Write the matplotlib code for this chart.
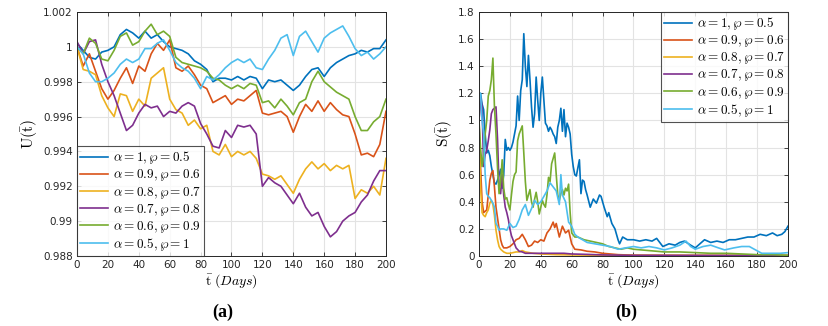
import numpy as np
import matplotlib
matplotlib.use("Agg")
from matplotlib import pyplot as plt

# ---- data: U(t) panel (sampled every 4 days) ----
days_u = np.arange(0, 201, 4)

u_a1 = [1.0002, 0.9998, 0.9994, 0.9993, 0.9997, 0.9998, 1.0000, 1.0007, 1.0010, 1.0008,
        1.0005, 1.0009, 1.0005, 1.0007, 1.0003, 1.0000, 0.9999, 0.9998, 0.9996, 0.9992,
        0.9990, 0.9987, 0.9980, 0.9982, 0.9982, 0.9981, 0.9983, 0.9981, 0.9983, 0.9982,
        0.9976, 0.9981, 0.9980, 0.9981, 0.9978, 0.9975, 0.9978, 0.9983, 0.9987, 0.9988,
        0.9983, 0.9988, 0.9991, 0.9993, 0.9995, 0.9996, 0.9998, 0.9997, 0.9999, 0.9999,
        1.0004]
u_a09 = [1.0000, 0.9989, 0.9996, 0.9986, 0.9976, 0.9970, 0.9975, 0.9982, 0.9988, 0.9979,
         0.9989, 0.9986, 0.9996, 1.0002, 0.9998, 1.0004, 0.9988, 0.9986, 0.9989, 0.9984,
         0.9978, 0.9976, 0.9968, 0.9970, 0.9972, 0.9967, 0.9970, 0.9969, 0.9972, 0.9975,
         0.9962, 0.9961, 0.9962, 0.9963, 0.9960, 0.9951, 0.9960, 0.9967, 0.9963, 0.9969,
         0.9963, 0.9968, 0.9964, 0.9961, 0.9960, 0.9950, 0.9938, 0.9939, 0.9937, 0.9944,
         0.9963]
u_a08 = [1.0000, 0.9987, 0.9986, 0.9984, 0.9972, 0.9965, 0.9960, 0.9973, 0.9972, 0.9963,
         0.9970, 0.9966, 0.9982, 0.9985, 0.9988, 0.9970, 0.9964, 0.9962, 0.9955, 0.9958,
         0.9953, 0.9955, 0.9940, 0.9938, 0.9944, 0.9937, 0.9940, 0.9938, 0.9940, 0.9936,
         0.9927, 0.9926, 0.9924, 0.9926, 0.9921, 0.9916, 0.9924, 0.9930, 0.9934, 0.9930,
         0.9933, 0.9929, 0.9932, 0.9930, 0.9932, 0.9913, 0.9918, 0.9916, 0.9920, 0.9915,
         0.9936]
u_a07 = [1.0003, 0.9996, 1.0003, 1.0004, 0.9990, 0.9980, 0.9972, 0.9962, 0.9952, 0.9955,
         0.9962, 0.9967, 0.9965, 0.9966, 0.9960, 0.9963, 0.9962, 0.9966, 0.9968, 0.9966,
         0.9956, 0.9950, 0.9943, 0.9942, 0.9952, 0.9948, 0.9955, 0.9954, 0.9955, 0.9950,
         0.9920, 0.9925, 0.9922, 0.9920, 0.9915, 0.9910, 0.9916, 0.9908, 0.9903, 0.9905,
         0.9897, 0.9891, 0.9894, 0.9900, 0.9903, 0.9905, 0.9911, 0.9915, 0.9923, 0.9929,
         0.9929]
u_a06 = [1.0000, 0.9996, 1.0005, 1.0002, 0.9993, 0.9992, 0.9998, 1.0006, 1.0008, 1.0001,
         1.0003, 1.0009, 1.0013, 1.0007, 1.0009, 1.0006, 0.9994, 0.9991, 0.9990, 0.9989,
         0.9988, 0.9986, 0.9982, 0.9981, 0.9978, 0.9976, 0.9978, 0.9976, 0.9979, 0.9978,
         0.9968, 0.9969, 0.9965, 0.9970, 0.9966, 0.9961, 0.9968, 0.9970, 0.9980, 0.9986,
         0.9980, 0.9977, 0.9974, 0.9972, 0.9970, 0.9960, 0.9952, 0.9952, 0.9957, 0.9960,
         0.9970]
u_a05 = [1.0000, 0.9996, 0.9985, 0.9980, 0.9980, 0.9982, 0.9985, 0.9990, 0.9993, 0.9991,
         0.9993, 0.9999, 0.9999, 1.0002, 1.0004, 0.9998, 0.9991, 0.9988, 0.9986, 0.9982,
         0.9976, 0.9983, 0.9981, 0.9984, 0.9988, 0.9991, 0.9993, 0.9991, 0.9993, 0.9988,
         0.9987, 0.9993, 0.9998, 1.0005, 1.0007, 0.9995, 1.0006, 1.0009, 1.0003, 0.9997,
         1.0005, 1.0008, 1.0010, 1.0012, 1.0006, 0.9999, 0.9995, 0.9997, 0.9993, 0.9996,
         1.0000]

# ---- data: S(t) panel ----
t_s_a1 = [0, 1, 2, 3, 4, 5, 6, 7, 8, 9, 10, 11, 12, 13, 14, 15, 16, 17, 18, 19, 20, 21, 22,
          23, 24, 25, 26, 27, 28, 29, 30, 31, 32, 33, 34, 35, 36, 37, 38, 39, 40, 41, 42,
          43, 44, 45, 46, 47, 48, 49, 50, 51, 52, 53, 54, 55, 56, 57, 58, 59, 60, 61, 62,
          63, 64, 65, 66, 67, 68, 69, 70, 72, 74, 76, 78, 79, 81, 83, 84, 86, 88, 90, 91,
          93, 96, 100, 104, 108, 112, 115, 119, 123, 127, 130, 133, 137, 140, 143, 146,
          150, 154, 158, 162, 166, 170, 174, 178, 182, 186, 190, 193, 196, 198, 200]
s_a1 = [1.00, 1.20, 1.12, 1.08, 0.90, 0.76, 0.78, 0.74, 0.66, 0.60, 0.54, 0.53, 0.56, 0.60,
        0.64, 0.50, 0.60, 0.86, 0.78, 0.80, 0.78, 0.80, 0.84, 0.90, 0.96, 1.18, 1.00, 1.22,
        1.30, 1.64, 1.40, 1.25, 1.48, 1.30, 1.10, 0.95, 1.05, 1.32, 1.15, 1.00, 1.20, 1.32,
        1.15, 0.98, 0.96, 0.92, 0.95, 0.93, 0.90, 0.88, 0.83, 0.95, 1.00, 1.09, 0.92, 1.08,
        0.88, 0.98, 0.95, 0.90, 0.75, 0.66, 0.60, 0.59, 0.65, 0.71, 0.46, 0.56, 0.55, 0.49,
        0.45, 0.36, 0.42, 0.39, 0.45, 0.44, 0.36, 0.29, 0.32, 0.24, 0.20, 0.12, 0.09, 0.14,
        0.12, 0.12, 0.11, 0.12, 0.11, 0.13, 0.07, 0.09, 0.08, 0.10, 0.11, 0.08, 0.06, 0.09,
        0.12, 0.10, 0.11, 0.10, 0.12, 0.12, 0.13, 0.14, 0.14, 0.16, 0.15, 0.17, 0.15, 0.16,
        0.18, 0.22]

t_s_a09 = [0, 1, 2, 3, 4, 5, 6, 7, 8, 9, 10, 11, 12, 13, 14, 15, 16, 18, 20, 22, 24, 26, 28,
           30, 32, 34, 36, 38, 40, 42, 44, 46, 48, 49, 50, 52, 54, 56, 58, 60, 62, 66, 70,
           75, 80, 90, 100, 120, 150, 200]
s_a09 = [1.00, 0.66, 0.40, 0.32, 0.33, 0.34, 0.45, 0.56, 0.61, 0.63, 0.51, 0.36, 0.28, 0.20,
         0.12, 0.08, 0.06, 0.06, 0.07, 0.09, 0.12, 0.13, 0.16, 0.12, 0.07, 0.08, 0.11, 0.10,
         0.12, 0.11, 0.17, 0.20, 0.25, 0.21, 0.24, 0.14, 0.22, 0.17, 0.19, 0.09, 0.05, 0.045,
         0.035, 0.03, 0.02, 0.01, 0.006, 0.005, 0.004, 0.004]

t_s_a08 = [0, 1, 2, 3, 4, 5, 6, 7, 8, 9, 10, 11, 12, 13, 14, 16, 18, 20, 22, 24, 26, 28, 30,
           35, 40, 50, 60, 80, 120, 200]
s_a08 = [0.98, 0.51, 0.32, 0.30, 0.29, 0.32, 0.34, 0.39, 0.41, 0.38, 0.30, 0.19, 0.12, 0.07,
         0.05, 0.03, 0.02, 0.02, 0.025, 0.03, 0.03, 0.04, 0.03, 0.02, 0.015, 0.01, 0.008,
         0.005, 0.004, 0.003]

t_s_a07 = [0, 1, 2, 3, 4, 5, 6, 7, 8, 9, 10, 11, 12, 13, 14, 15, 16, 17, 18, 19, 20, 21, 22,
           24, 26, 28, 30, 35, 40, 45, 50, 55, 60, 70, 80, 100, 150, 200]
s_a07 = [1.00, 1.17, 1.10, 0.66, 0.75, 0.78, 0.85, 0.93, 1.05, 1.08, 1.09, 1.10, 0.86, 0.51,
         0.46, 0.60, 0.45, 0.36, 0.32, 0.27, 0.20, 0.15, 0.12, 0.06, 0.035, 0.03, 0.02, 0.02,
         0.02, 0.02, 0.02, 0.02, 0.015, 0.012, 0.008, 0.005, 0.004, 0.003]

t_s_a06 = [0, 1, 2, 3, 4, 5, 6, 7, 8, 9, 10, 11, 12, 13, 14, 15, 16, 17, 18, 19, 20, 21, 22,
           23, 24, 25, 26, 27, 28, 29, 30, 31, 32, 33, 34, 35, 36, 37, 38, 39, 40, 41, 42,
           43, 44, 45, 46, 47, 48, 49, 50, 51, 52, 53, 54, 55, 56, 57, 58, 59, 60, 62, 64,
           66, 68, 72, 76, 80, 84, 88, 92, 96, 100, 110, 120, 130, 140, 150, 160, 170, 180,
           190, 200]
s_a06 = [1.00, 0.80, 0.66, 0.75, 0.90, 1.00, 1.18, 1.22, 1.30, 1.46, 1.10, 0.90, 0.65, 0.46,
         0.55, 0.71, 0.50, 0.42, 0.43, 0.38, 0.34, 0.45, 0.55, 0.60, 0.62, 0.85, 0.90, 0.93,
         0.96, 0.76, 0.55, 0.41, 0.45, 0.49, 0.40, 0.36, 0.42, 0.47, 0.40, 0.31, 0.36, 0.41,
         0.38, 0.36, 0.45, 0.58, 0.55, 0.68, 0.72, 0.76, 0.60, 0.45, 0.41, 0.46, 0.49, 0.45,
         0.50, 0.48, 0.53, 0.32, 0.17, 0.14, 0.14, 0.13, 0.12, 0.11, 0.10, 0.09, 0.07, 0.06,
         0.05, 0.06, 0.05, 0.04, 0.03, 0.03, 0.025, 0.02, 0.02, 0.015, 0.01, 0.01, 0.005]

t_s_a05 = [0, 1, 2, 3, 4, 5, 6, 7, 8, 9, 10, 11, 12, 13, 14, 16, 18, 20, 22, 24, 26, 28, 30,
           32, 34, 36, 38, 40, 42, 44, 46, 48, 50, 52, 53, 54, 56, 58, 60, 62, 64, 67, 70,
           75, 80, 85, 90, 95, 100, 105, 110, 115, 120, 125, 130, 134, 137, 140, 145, 150,
           155, 159, 165, 170, 175, 179, 183, 190, 195, 200]
s_a05 = [1.15, 1.20, 1.00, 0.90, 0.60, 0.46, 0.44, 0.43, 0.41, 0.39, 0.36, 0.24, 0.22, 0.19,
         0.20, 0.20, 0.19, 0.24, 0.21, 0.22, 0.27, 0.34, 0.38, 0.30, 0.35, 0.41, 0.38, 0.40,
         0.44, 0.48, 0.54, 0.51, 0.48, 0.38, 0.60, 0.45, 0.40, 0.25, 0.22, 0.16, 0.14, 0.12,
         0.10, 0.09, 0.08, 0.07, 0.05, 0.06, 0.07, 0.06, 0.07, 0.06, 0.045, 0.06, 0.08, 0.11,
         0.07, 0.05, 0.07, 0.08, 0.06, 0.045, 0.06, 0.07, 0.07, 0.045, 0.02, 0.02, 0.02, 0.025]

labels = [r'$\alpha = 1, \wp = 0.5$', r'$\alpha = 0.9, \wp = 0.6$',
          r'$\alpha = 0.8, \wp = 0.7$', r'$\alpha = 0.7, \wp = 0.8$',
          r'$\alpha = 0.6, \wp = 0.9$', r'$\alpha = 0.5, \wp = 1$']
colors = ['#0072BD', '#D95319', '#EDB120', '#7E2F8E', '#77AC30', '#4DBEEE']

u_list = [u_a1, u_a09, u_a08, u_a07, u_a06, u_a05]
s_list = [(t_s_a1, s_a1), (t_s_a09, s_a09), (t_s_a08, s_a08),
          (t_s_a07, s_a07), (t_s_a06, s_a06), (t_s_a05, s_a05)]

plt.rcParams['mathtext.fontset'] = 'cm'
plt.rcParams['font.family'] = 'DejaVu Sans'

fig = plt.figure(figsize=(8.29, 3.26), dpi=100)
ax1 = fig.add_axes([0.0929, 0.2147, 0.3727, 0.7485])
ax2 = fig.add_axes([0.5778, 0.2147, 0.3727, 0.7485])


def style(ax):
    ax.grid(True, color='#e3e3e3', linewidth=0.8)
    ax.set_axisbelow(True)
    for sp in ax.spines.values():
        sp.set_color('#262626')
        sp.set_linewidth(0.7)
    ax.tick_params(direction='in', top=True, right=True, length=3, width=0.6,
                   labelsize=7.5, colors='#262626', pad=3)
    ax.set_xlim(0, 200)
    ax.set_xticks(np.arange(0, 201, 20))
    ax.set_xlabel(r'$\bar{\mathrm{t}}\ (Days)$', fontsize=10, labelpad=1)


def add_legend(ax, loc):
    leg = ax.legend(loc=loc, fontsize=9.5, frameon=True, fancybox=False,
                    edgecolor='#262626', borderaxespad=0, handlelength=2.1,
                    labelspacing=0.08, borderpad=0.25, handletextpad=0.35)
    leg.get_frame().set_linewidth(0.8)
    return leg


for u, c, lab in zip(u_list, colors, labels):
    ax1.plot(days_u, u, color=c, lw=1.2, label=lab)
style(ax1)
ax1.set_ylim(0.988, 1.002)
u_ticks = [0.988, 0.99, 0.992, 0.994, 0.996, 0.998, 1.0, 1.002]
ax1.set_yticks(u_ticks)
ax1.set_yticklabels(['0.988', '0.99', '0.992', '0.994', '0.996', '0.998', '1', '1.002'])
ax1.set_ylabel(r'$\mathrm{U}(\bar{\mathrm{t}})$', fontsize=11, labelpad=2)
add_legend(ax1, 'lower left')

for (t, s), c, lab in zip(s_list, colors, labels):
    ax2.plot(t, s, color=c, lw=1.2, label=lab)
style(ax2)
ax2.set_ylim(0, 1.8)
s_ticks = np.round(np.arange(0, 1.81, 0.2), 1)
ax2.set_yticks(s_ticks)
ax2.set_yticklabels(['0', '0.2', '0.4', '0.6', '0.8', '1', '1.2', '1.4', '1.6', '1.8'])
ax2.set_ylabel(r'$\mathrm{S}(\bar{\mathrm{t}})$', fontsize=11, labelpad=2)
add_legend(ax2, 'upper right')

fig.text(0.269, 0.043, '(a)', fontsize=13, fontweight='bold',
         family='Liberation Serif', ha='center', va='center')
fig.text(0.756, 0.043, '(b)', fontsize=13, fontweight='bold',
         family='Liberation Serif', ha='center', va='center')

fig.savefig('out.png', dpi=100)
